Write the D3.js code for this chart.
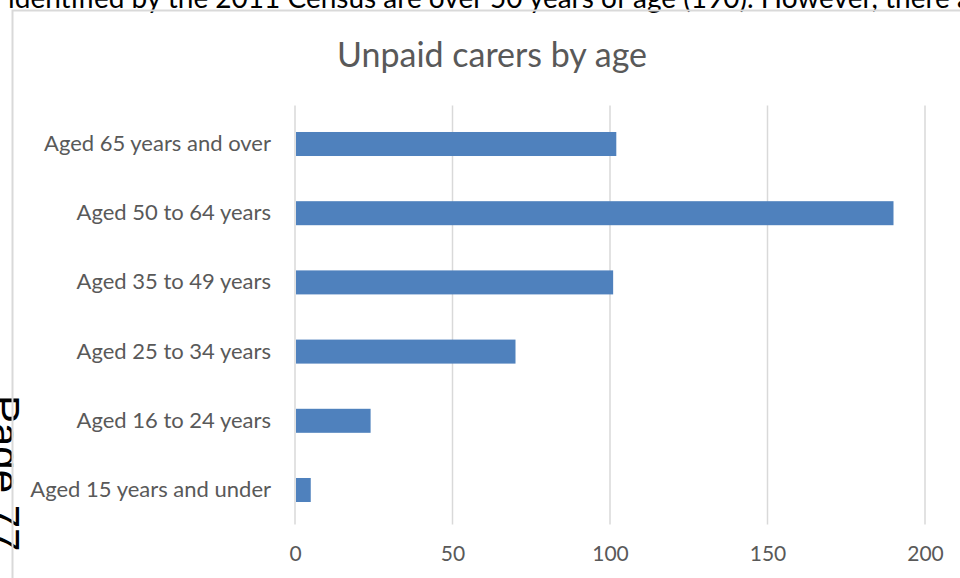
<!DOCTYPE html>
<html>
<head>
<meta charset="utf-8">
<script src="https://cdn.jsdelivr.net/npm/d3@7"></script>
<style>
  html, body { margin: 0; padding: 0; background: #fff; overflow: hidden; }
  svg { display: block; }
</style>
</head>
<body>
<svg id="chart" width="960" height="578"></svg>
<script>
// Unpaid carers by age band (number of people)
const categories = [
  "Aged 65 years and over",
  "Aged 50 to 64 years",
  "Aged 35 to 49 years",
  "Aged 25 to 34 years",
  "Aged 16 to 24 years",
  "Aged 15 years and under"
];
const values = [102, 190, 101, 70, 24, 5];
const xTicks = [0, 50, 100, 150, 200];
const chartTitle = "Unpaid carers by age";
const bodyText = "identified by the 2011 Census are over 50 years of age (190). However, there a";
const pageLabel = "Page 77";

const svg = d3.select("#chart");
const font = "Lato, 'Open Sans', sans-serif";

// surrounding document text
svg.append("text")
  .attr("x", 8).attr("y", 8)
  .attr("font-family", font)
  .attr("font-size", 28)
  .attr("fill", "#000")
  .text(bodyText);

// page number running down the margin
svg.append("text")
  .attr("transform", "translate(-10,395) rotate(90)")
  .attr("font-family", "'Liberation Sans', Arial, sans-serif")
  .attr("font-size", 42)
  .attr("fill", "#000")
  .text(pageLabel);

// chart frame
svg.append("rect")
  .attr("x", 12.5).attr("y", 10.5)
  .attr("width", 960).attr("height", 600)
  .attr("fill", "none")
  .attr("stroke", "#d9d9d9")
  .attr("stroke-width", 2);

const plot = { left: 295, right: 925, top: 109.4, bottom: 524.6 };

const x = d3.scaleLinear().domain([0, 200]).range([plot.left, plot.right]);
const y = d3.scaleBand()
  .domain(categories)
  .range([plot.top, plot.bottom])
  .paddingInner(0.653)
  .paddingOuter(0.3265);

// title
svg.append("text")
  .attr("x", 492).attr("y", 67)
  .attr("text-anchor", "middle")
  .attr("font-family", font)
  .attr("font-size", 34)
  .attr("fill", "#595959")
  .text(chartTitle);

// vertical gridlines
svg.append("g")
  .selectAll("line")
  .data(xTicks)
  .join("line")
  .attr("x1", d => x(d)).attr("x2", d => x(d))
  .attr("y1", plot.top - 4).attr("y2", plot.bottom)
  .attr("stroke", "#d9d9d9")
  .attr("stroke-width", 1.5);

// x axis labels
const xAxis = d3.axisBottom(x).tickValues(xTicks).tickSize(0).tickPadding(0);
const gx = svg.append("g")
  .attr("transform", `translate(0,${plot.bottom + 21})`)
  .call(xAxis);
gx.select(".domain").remove();
gx.selectAll("text")
  .attr("font-family", font)
  .attr("font-size", 21)
  .attr("fill", "#595959")
  .attr("dy", "0.71em");

// category labels
const yAxis = d3.axisLeft(y).tickSize(0).tickPadding(24);
const gy = svg.append("g")
  .attr("transform", `translate(${plot.left},0)`)
  .call(yAxis);
gy.select(".domain").remove();
gy.selectAll("text")
  .attr("font-family", font)
  .attr("font-size", 22)
  .attr("fill", "#595959");

// bars
svg.append("g")
  .selectAll("rect")
  .data(categories.map((c, i) => ({ c, v: values[i] })))
  .join("rect")
  .attr("x", x(0) + 1)
  .attr("y", d => y(d.c))
  .attr("width", d => x(d.v) - x(0) - 1)
  .attr("height", y.bandwidth())
  .attr("fill", "#4f81bd");
</script>
</body>
</html>
